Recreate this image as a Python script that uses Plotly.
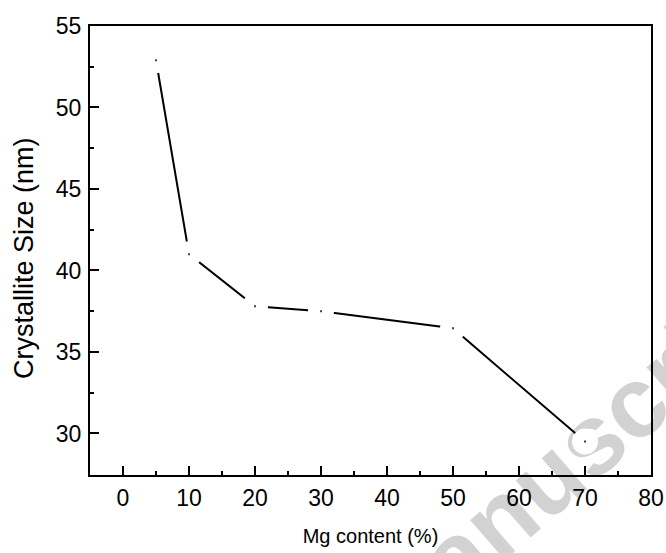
import plotly.graph_objects as go

# Crystallite size versus Mg content
mg_content = [5, 10, 20, 30, 50, 70]
crystallite_size = [52.9, 41.0, 37.8, 37.5, 36.45, 29.5]

x_ticks = [0, 10, 20, 30, 40, 50, 60, 70, 80]
y_ticks = [30, 35, 40, 45, 50, 55]

fig = go.Figure()

# connecting line, broken around each point by a white disc (Origin-style gap)
fig.add_trace(go.Scatter(
    x=mg_content, y=crystallite_size, mode="lines+markers",
    line=dict(color="black", width=2),
    marker=dict(symbol="circle", size=26, color="white", line=dict(width=0)),
    hoverinfo="skip", showlegend=False,
))
# tiny dot marking each measured value
fig.add_trace(go.Scatter(
    x=mg_content, y=crystallite_size, mode="markers",
    marker=dict(symbol="square", size=2, color="#444444", line=dict(width=0)),
    showlegend=False,
))

family = "Liberation Sans, Arial, sans-serif"
tick_font = dict(family=family, size=23, color="black")

fig.update_xaxes(
    range=[-5, 80], tickvals=x_ticks, ticktext=[str(v) for v in x_ticks],
    ticks="inside", ticklen=9, tickwidth=2, tickcolor="black",
    minor=dict(ticks="inside", ticklen=4, tickwidth=2, tickcolor="black", dtick=5, tick0=0),
    showline=True, linecolor="black", linewidth=2, mirror=True,
    showgrid=False, zeroline=False, ticklabelstandoff=1, automargin=False,
    tickfont=tick_font,
    title=dict(text="Mg content (%)", font=dict(family=family, size=20, color="black"), standoff=19),
)
fig.update_yaxes(
    range=[27.45, 55], tickvals=y_ticks, ticktext=[str(v) for v in y_ticks],
    ticks="inside", ticklen=9, tickwidth=2, tickcolor="black",
    minor=dict(ticks="inside", ticklen=4, tickwidth=2, tickcolor="black", dtick=2.5, tick0=0),
    showline=True, linecolor="black", linewidth=2, mirror=True,
    showgrid=False, zeroline=False, ticklabelstandoff=2, automargin=False,
    tickfont=tick_font,
)

# y-axis title, placed slightly below the plot's vertical centre
fig.add_annotation(
    text="Crystallite Size (nm)", xref="paper", yref="paper",
    x=-0.1176, y=0.4833, xanchor="center", yanchor="middle",
    textangle=-90, showarrow=False,
    font=dict(family=family, size=27, color="black"),
)

# faint watermark behind the data, running diagonally across the lower right
fig.add_shape(
    type="line", xref="paper", yref="paper",
    x0=0.716, y0=-0.085, x1=0.986, y1=0.207,
    line=dict(color="rgba(0,0,0,0)", width=1), layer="below",
    label=dict(text="<b>Manuscript</b>", textposition="middle", yanchor="middle",
               font=dict(family=family, size=100, color="#d2d2d2")),
)

fig.update_layout(
    width=666, height=553,
    margin=dict(l=90, r=15, t=26, b=78, autoexpand=False),
    paper_bgcolor="white", plot_bgcolor="rgba(0,0,0,0)",
)

fig.write_html("out.html")
